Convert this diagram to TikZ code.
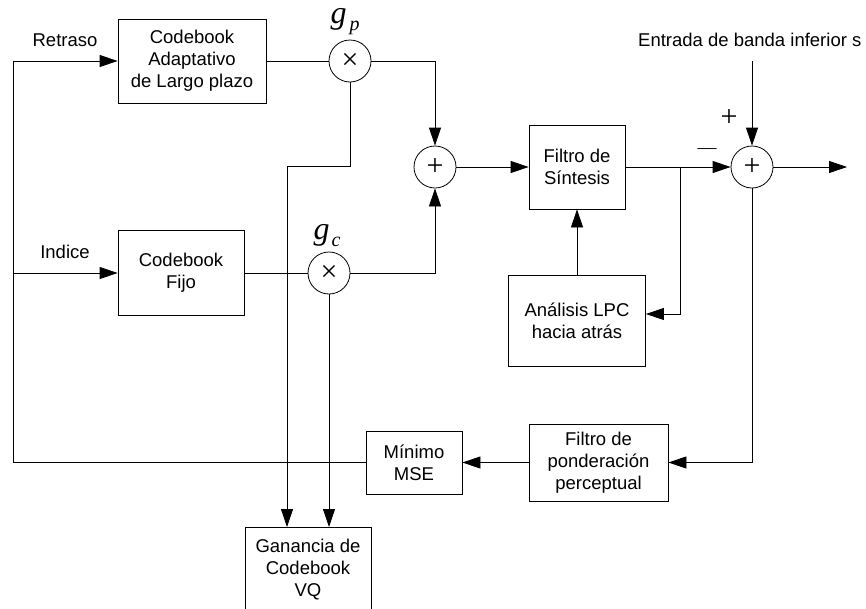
\documentclass[tikz,border=0pt]{standalone}
\usepackage{fontspec}
\setmainfont{Liberation Sans}
\newfontfamily\tms{Liberation Serif}
\usetikzlibrary{arrows.meta}
\begin{document}
\begin{tikzpicture}[x=1pt,y=-1pt,
  blk/.style={draw, line width=0.8pt, align=center, inner sep=0pt, font=\fontsize{18.5}{22}\selectfont},
  op/.style={draw, circle, minimum size=42pt, inner sep=0pt, line width=0.8pt, font=\fontsize{30}{30}\tms},
  lbl/.style={font=\fontsize{18.5}{22}\selectfont, inner sep=0pt},
  gl/.style={inner sep=0pt, font=\fontsize{32}{32}\tms\itshape},
  conn/.style={line width=0.8pt},
  arr/.style={conn, -{Triangle[length=18pt,width=12pt]}},
]
\useasboundingbox (0,0) rectangle (866,608);
% blocks
\node[blk, minimum width=148pt, minimum height=84pt] (acb) at (192,61) {Codebook\\Adaptativo\\de Largo plazo};
\node[blk, minimum width=126pt, minimum height=85pt] (fcb) at (181,273) {Codebook\\Fijo};
\node[blk, minimum width=96pt, minimum height=84pt] (fs) at (577,167) {Filtro de\\Síntesis};
\node[blk, minimum width=137pt, minimum height=91pt] (an) at (577,320.5) {Análisis LPC\\hacia atrás};
\node[blk, minimum width=139pt, minimum height=77pt] (pf) at (598.5,462.5) {Filtro de\\ponderación\\perceptual};
\node[blk, minimum width=96pt, minimum height=63pt] (mn) at (414,462.5) {Mínimo\\MSE};
\node[blk, minimum width=126pt, minimum height=84pt, anchor=north] (vq) at (308,527) {Ganancia de\\Codebook\\VQ};
% operators
\node[op] (gp) at (350,61) {×};
\node[op] (gc) at (329,273) {×};
\node[op] (s1) at (435,167) {+};
\node[op] (s2) at (752,167) {+};
% labels
\node[lbl] (rt) at (65,40) {Retraso};
\node[lbl] (ix) at (65,252) {Indice};
\node[lbl, anchor=west] (en) at (638,40) {Entrada de banda inferior s};
\node[inner sep=0pt, font=\fontsize{30}{30}\tms] (pl) at (729,118) {+};
\node[inner sep=0pt, font=\fontsize{19}{19}\tms] (mi) at (707,151) {—};
\node[gl] (gpl) at (345,22) {g\kern3pt\raisebox{-7pt}{\fontsize{20}{20}\selectfont p}};
\node[gl] (gcl) at (327,236) {g\kern2pt\raisebox{-7pt}{\fontsize{20}{20}\selectfont c}};
% coordinates
\coordinate (lt) at (13,61);
\coordinate (k1) at (287,166);
\coordinate (j) at (680,167);
\coordinate (ja) at (680,314);
\coordinate (in) at (752,61);
\coordinate (out) at (847,167);
% connectors
\draw[arr] (mn.west) -| (lt) -- (acb.west);
\draw[arr] (fcb.west -| lt) -- (fcb.west);
\draw[conn] (acb.east) -- (gp.west);
\draw[conn] (fcb.east) -- (gc.west);
\draw[arr] (gp.east) -| (s1.north);
\draw[arr] (gc.east) -| (s1.south);
\draw[arr] (gp.south) |- (k1) -- (k1 |- vq.north);
\draw[arr] (gc.south) -- (gc.south |- vq.north);
\draw[arr] (s1.east) -- (fs.west);
\draw[arr] (fs.east) -- (s2.west);
\draw[arr] (j) -- (ja) -- (ja -| an.east);
\draw[arr] (an.north) -- (fs.south);
\draw[arr] (in) -- (s2.north);
\draw[arr] (s2.east) -- (out);
\draw[arr] (s2.south) |- (pf.east);
\draw[arr] (pf.west) -- (mn.east);
\end{tikzpicture}
\end{document}
